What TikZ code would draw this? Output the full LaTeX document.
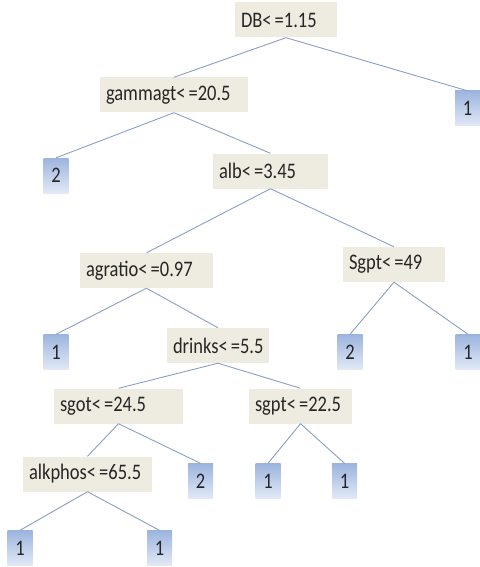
\documentclass[tikz,border=0pt]{standalone}
\usepackage{fontspec}
\usepackage{graphicx}
\setmainfont{Carlito}
\definecolor{condfill}{HTML}{EEECE1}
\definecolor{leaftop}{HTML}{9CB4DE}
\definecolor{leafbot}{HTML}{E2E9F6}
\definecolor{linecol}{HTML}{8A9FC4}
\definecolor{txt}{HTML}{262626}
\newcommand{\tallt}[1]{\scalebox{1}[1.2]{#1}}
\begin{document}
\begin{tikzpicture}[x=1pt,y=-1pt,
  cond/.style={fill=condfill, inner xsep=6pt, inner ysep=0pt, minimum height=35pt,
    text width=#1, align=left, text=txt, font=\fontsize{18.5}{20}\selectfont},
  leaf/.style={top color=leaftop, bottom color=leafbot, minimum width=25pt,
    minimum height=35pt, inner sep=0pt, text=txt, font=\fontsize{18.5}{20}\selectfont},
  edge/.style={draw=linecol, line width=0.9pt}]
\useasboundingbox (0,0) rectangle (479,567);
% internal nodes
\node[cond=90pt]  (db)  at (286,20)    {\tallt{DB<\,=1.15}};
\node[cond=136pt] (gam) at (174,95)    {\tallt{gammagt<\,=20.5}};
\node[cond=103pt] (alb) at (270.5,171) {\tallt{alb<\,=3.45}};
\node[cond=121pt] (agr) at (146.5,270.5) {\tallt{agratio<\,=0.97}};
\node[cond=90pt]  (Sgp) at (394,264.5) {\tallt{Sgpt<\,=49}};
\node[cond=90pt]  (dri) at (218,345.5) {\tallt{drinks<\,=5.5}};
\node[cond=117pt] (sgo) at (118.5,406) {\tallt{sgot<\,=24.5}};
\node[cond=91pt]  (sgp) at (300.5,406) {\tallt{sgpt<\,=22.5}};
\node[cond=117pt] (alk) at (87.5,474)  {\tallt{alkphos<\,=65.5}};
% leaves
\node[leaf] (l1)  at (467.5,108.5) {\tallt{1}};
\node[leaf] (l2)  at (56,175.5)    {\tallt{2}};
\node[leaf] (l3)  at (56,352)      {\tallt{1}};
\node[leaf] (l4)  at (350,352)     {\tallt{2}};
\node[leaf] (l5)  at (468,352)     {\tallt{1}};
\node[leaf] (l6)  at (200.5,481)   {\tallt{2}};
\node[leaf] (l7)  at (268,481)     {\tallt{1}};
\node[leaf] (l8)  at (344.5,481)   {\tallt{1}};
\node[leaf] (l9)  at (20,548)      {\tallt{1}};
\node[leaf] (l10) at (159.5,548)   {\tallt{1}};
% edges
\draw[edge] (db.south) -- (gam.north);
\draw[edge] (db.south) -- (l1.north);
\draw[edge] (gam.south) -- (l2.north);
\draw[edge] (gam.south) -- (alb.north);
\draw[edge] (alb.south) -- (agr.north);
\draw[edge] (alb.south) -- (Sgp.north);
\draw[edge] (agr.south) -- (l3.north);
\draw[edge] (agr.south) -- (dri.north);
\draw[edge] (Sgp.south) -- (l4.north);
\draw[edge] (Sgp.south) -- (l5.north);
\draw[edge] (dri.south) -- (sgo.north);
\draw[edge] (dri.south) -- (sgp.north);
\draw[edge] (sgo.south) -- (alk.north);
\draw[edge] (sgo.south) -- (l6.north);
\draw[edge] (sgp.south) -- (l7.north);
\draw[edge] (sgp.south) -- (l8.north);
\draw[edge] (alk.south) -- (l9.north);
\draw[edge] (alk.south) -- (l10.north);
\end{tikzpicture}
\end{document}
